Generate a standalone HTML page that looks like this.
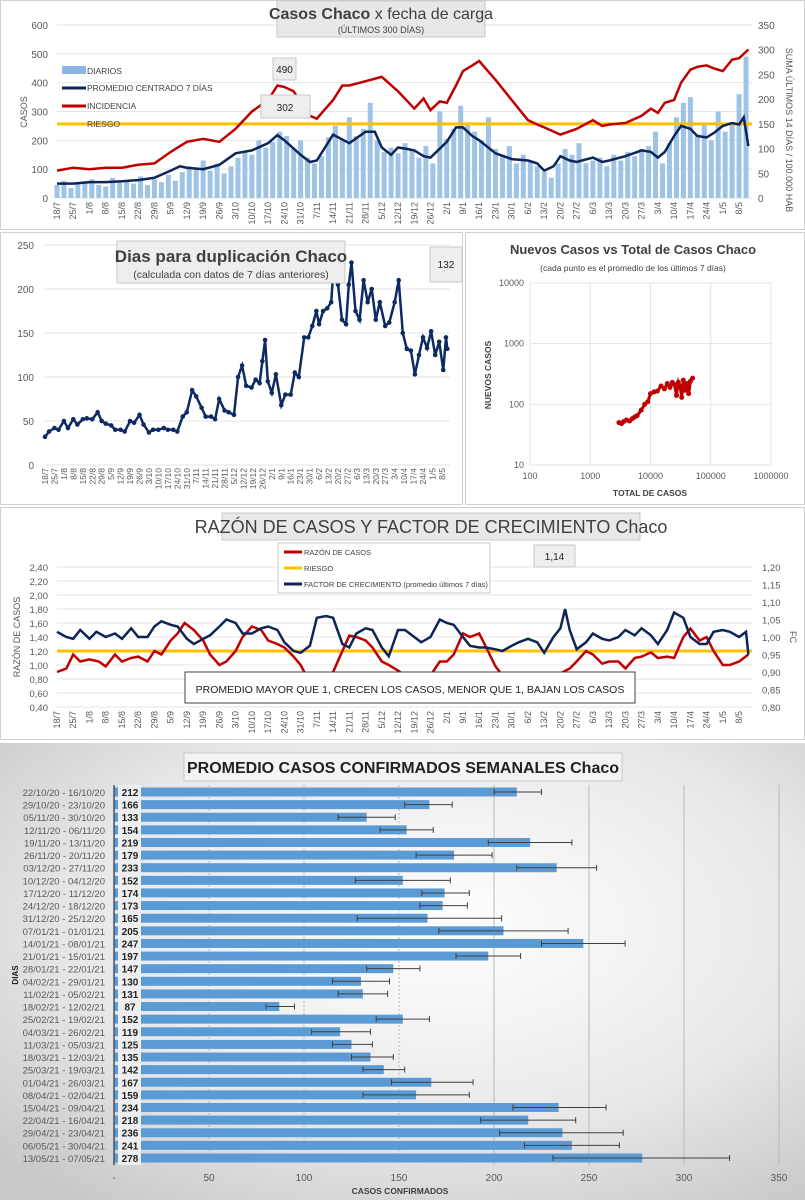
<!DOCTYPE html>
<html><head><meta charset="utf-8"><style>
html,body{margin:0;padding:0;background:#fff}
svg{display:block;font-family:"Liberation Sans",sans-serif}
</style></head><body>
<svg id="s" width="805" height="1200" viewBox="0 0 805 1200" xmlns="http://www.w3.org/2000/svg">
<defs>
<radialGradient id="bg5" cx="0.55" cy="0.4" r="0.75">
<stop offset="0" stop-color="#ffffff"/><stop offset="0.6" stop-color="#e8e8e8"/><stop offset="1" stop-color="#c8c8c8"/>
</radialGradient>
</defs>
<rect x="0.5" y="0.5" width="804" height="229" fill="#fff" stroke="#d0d0d0"/>
<rect x="0.5" y="232.5" width="462" height="272" fill="#fff" stroke="#d0d0d0"/>
<rect x="465.5" y="232.5" width="339" height="272" fill="#fff" stroke="#d0d0d0"/>
<rect x="0.5" y="507.5" width="804" height="232" fill="#fff" stroke="#d0d0d0"/>
<rect x="0" y="743" width="805" height="457" fill="url(#bg5)"/>
<g id="g1"></g><g id="g2"></g><g id="g3"></g><g id="g4"></g><g id="g5"></g>
</svg>
<script>
// ---------- data: panel 1 ----------
const dailyCases = [45,60,35,55,50,65,45,40,70,55,60,50,75,45,65,55,80,60,90,110,100,130,95,120,85,110,140,160,150,200,175,195,230,215,170,200,140,120,145,210,250,200,280,215,240,330,200,160,175,155,190,165,140,180,120,300,205,240,320,260,230,200,280,170,150,180,120,150,130,110,90,70,120,170,150,190,120,130,140,110,150,130,160,145,170,180,230,120,190,280,330,350,220,260,200,300,230,260,360,490];
const avgDates = ["18/7","25/7","1/8","8/8","15/8","22/8","29/8","5/9","9/9","12/9","19/9","26/9","3/10","10/10","17/10","21/10","24/10","31/10","4/11","7/11","14/11","21/11","28/11","2/12","5/12","9/12","12/12","16/12","19/12","23/12","26/12","2/1","6/1","9/1","13/1","16/1","23/1","30/1","6/2","10/2","13/2","17/2","20/2","24/2","27/2","6/3","10/3","13/3","20/3","27/3","31/3","3/4","6/4","10/4","13/4","17/4","20/4","24/4","27/4","1/5","5/5","8/5","10/5","12/5"];
const avgValues = [50,50,55,55,58,62,70,95,110,105,100,115,155,165,190,218,200,150,125,130,220,190,230,230,175,150,175,170,165,145,140,195,245,245,215,200,155,135,130,120,95,110,145,130,125,140,125,130,145,165,160,140,160,215,250,240,215,210,225,250,260,255,280,180];
const incDates = ["18/7","25/7","1/8","8/8","15/8","22/8","29/8","5/9","12/9","19/9","26/9","3/10","10/10","17/10","21/10","24/10","28/10","4/11","7/11","14/11","18/11","21/11","28/11","5/12","12/12","19/12","23/12","26/12","30/12","2/1","6/1","9/1","13/1","16/1","23/1","30/1","6/2","10/2","13/2","20/2","27/2","6/3","10/3","13/3","20/3","27/3","31/3","3/4","6/4","10/4","13/4","17/4","20/4","24/4","27/4","1/5","5/5","8/5","12/5"];
const incValues = [95,105,100,105,105,115,120,160,195,205,195,240,300,340,390,385,370,285,275,340,390,390,405,420,370,310,345,305,335,330,390,440,460,475,410,340,270,255,245,220,240,270,250,255,260,285,310,295,330,340,400,445,455,460,450,440,480,485,515];
const riesgo1 = 257;
const leftTicks1 = [0,100,200,300,400,500,600];
const rightTicks1 = [0,50,100,150,200,250,300,350];
// ---------- data: panel 2 ----------
const dupDates = ["18/7","21/7","25/7","28/7","1/8","4/8","8/8","11/8","15/8","18/8","22/8","26/8","29/8","1/9","5/9","8/9","12/9","15/9","19/9","22/9","26/9","29/9","3/10","6/10","10/10","14/10","17/10","21/10","24/10","28/10","31/10","4/11","7/11","11/11","14/11","18/11","21/11","24/11","28/11","1/12","5/12","8/12","11/12","14/12","18/12","21/12","24/12","26/12","28/12","30/12","2/1","5/1","9/1","12/1","16/1","19/1","22/1","26/1","29/1","1/2","4/2","6/2","9/2","12/2","15/2","17/2","20/2","23/2","26/2","28/2","2/3","5/3","8/3","11/3","14/3","17/3","20/3","23/3","27/3","30/3","3/4","6/4","9/4","12/4","15/4","18/4","21/4","24/4","27/4","30/4","3/5","6/5","9/5","11/5","12/5"];
const dupValues = [32,38,42,40,50,42,52,46,52,53,52,60,50,47,45,40,40,38,50,48,57,46,37,40,40,42,40,40,38,55,60,85,78,65,55,55,52,75,62,60,57,100,113,90,88,97,93,118,142,95,82,103,68,80,80,105,100,145,145,158,175,160,175,178,185,230,205,165,160,205,230,175,165,210,185,200,165,185,158,162,185,210,150,132,130,103,125,145,133,152,125,140,108,145,132];
const dupTicks = [0,50,100,150,200,250];
// ---------- data: panel 3 ----------
const totalCases = [3000,3300,3600,4000,4500,5000,5500,6000,7000,8000,9000,10000,11500,13000,15000,17000,19000,21000,23000,25000,27000,29000,31000,33000,35000,37000,40000,43000,46000,50000];
const newCases = [50,48,52,55,53,58,62,65,80,100,110,150,160,165,200,180,220,190,230,210,140,230,200,130,250,170,220,150,240,270];
const logTicksY = [10,100,1000,10000];
const logTicksX = [100,1000,10000,100000,1000000];
// ---------- data: panel 4 ----------
const razDates = ["18/7","22/7","25/7","28/7","1/8","5/8","8/8","12/8","15/8","19/8","22/8","26/8","29/8","1/9","5/9","8/9","11/9","15/9","19/9","22/9","26/9","29/9","3/10","6/10","10/10","14/10","17/10","21/10","24/10","28/10","31/10","4/11","7/11","11/11","14/11","18/11","21/11","24/11","28/11","1/12","5/12","8/12","12/12","15/12","19/12","22/12","26/12","30/12","2/1","5/1","9/1","12/1","16/1","19/1","23/1","26/1","30/1","2/2","6/2","10/2","13/2","17/2","20/2","24/2","27/2","3/3","6/3","10/3","13/3","17/3","20/3","24/3","27/3","31/3","3/4","7/4","10/4","14/4","17/4","21/4","24/4","27/4","1/5","4/5","8/5","12/5"];
const razValues = [0.90,0.95,1.15,1.05,1.08,1.05,0.98,1.15,1.05,1.10,1.12,1.05,1.20,1.15,1.35,1.45,1.60,1.50,1.35,1.15,1.00,1.05,1.20,1.40,1.55,1.50,1.35,1.30,1.25,1.12,1.00,0.75,0.68,0.75,0.90,1.20,1.42,1.40,1.35,1.25,1.05,1.00,0.92,0.85,0.72,0.88,0.85,1.05,1.05,1.15,1.45,1.40,1.45,1.25,0.98,0.85,0.70,0.65,0.64,0.70,0.72,0.80,0.88,0.95,1.05,1.20,1.15,1.02,1.05,1.05,0.95,1.10,1.12,1.18,1.10,1.12,1.10,1.40,1.52,1.35,1.40,1.20,1.00,1.00,1.05,1.15];
const fcDates = ["18/7","22/7","25/7","28/7","1/8","4/8","8/8","12/8","15/8","19/8","22/8","26/8","29/8","1/9","5/9","8/9","12/9","15/9","19/9","22/9","26/9","29/9","3/10","6/10","10/10","14/10","17/10","21/10","24/10","28/10","31/10","4/11","7/11","11/11","14/11","18/11","21/11","24/11","28/11","1/12","5/12","8/12","12/12","15/12","19/12","22/12","26/12","30/12","2/1","5/1","9/1","12/1","16/1","19/1","23/1","26/1","30/1","2/2","6/2","10/2","13/2","17/2","20/2","22/2","24/2","27/2","3/3","6/3","10/3","13/3","17/3","20/3","24/3","27/3","31/3","3/4","7/4","10/4","14/4","17/4","21/4","24/4","27/4","1/5","4/5","8/5","11/5","12/5"];
const fcValues = [1.015,1.0,0.995,1.02,0.995,1.015,1.0,1.01,0.995,1.025,1.0,1.0,1.03,1.045,1.035,1.03,0.995,0.98,0.995,1.005,1.03,1.05,1.04,1.01,1.01,1.025,1.03,1.02,0.985,0.96,0.955,0.975,1.055,1.06,1.055,0.98,0.97,1.01,1.025,1.02,0.97,0.945,1.02,1.02,1.0,0.985,1.0,1.05,1.04,1.035,1.0,0.975,0.97,0.97,0.965,0.96,0.975,0.985,0.995,0.985,0.955,1.0,1.025,1.08,1.02,0.965,0.985,1.01,0.995,0.99,1.0,1.02,1.005,1.025,1.005,0.98,1.02,1.07,1.055,1.0,0.98,0.98,1.015,1.02,1.015,1.0,1.015,0.95];
const riesgo4 = 1.20;
const leftTicks4 = [0.40,0.60,0.80,1.00,1.20,1.40,1.60,1.80,2.00,2.20,2.40];
const rightTicks4 = [0.80,0.85,0.90,0.95,1.00,1.05,1.10,1.15,1.20];
// ---------- data: panel 5 ----------
const weekLabels = ["22/10/20 - 16/10/20","29/10/20 - 23/10/20","05/11/20 - 30/10/20","12/11/20 - 06/11/20","19/11/20 - 13/11/20","26/11/20 - 20/11/20","03/12/20 - 27/11/20","10/12/20 - 04/12/20","17/12/20 - 11/12/20","24/12/20 - 18/12/20","31/12/20 - 25/12/20","07/01/21 - 01/01/21","14/01/21 - 08/01/21","21/01/21 - 15/01/21","28/01/21 - 22/01/21","04/02/21 - 29/01/21","11/02/21 - 05/02/21","18/02/21 - 12/02/21","25/02/21 - 19/02/21","04/03/21 - 26/02/21","11/03/21 - 05/03/21","18/03/21 - 12/03/21","25/03/21 - 19/03/21","01/04/21 - 26/03/21","08/04/21 - 02/04/21","15/04/21 - 09/04/21","22/04/21 - 16/04/21","29/04/21 - 23/04/21","06/05/21 - 30/04/21","13/05/21 - 07/05/21"];
const weekValues = [212,166,133,154,219,179,233,152,174,173,165,205,247,197,147,130,131,87,152,119,125,135,142,167,159,234,218,236,241,278];
const errLow = [200,153,118,140,197,159,212,127,162,161,128,171,225,180,133,115,118,80,138,104,115,125,131,146,131,210,193,203,216,231];
const errHigh = [225,178,148,168,241,199,254,177,187,186,204,239,269,214,161,145,144,95,166,135,136,147,153,189,187,259,243,268,266,324];
const xTicks5 = [0,50,100,150,200,250,300,350];

const NS="http://www.w3.org/2000/svg";
function mk(parent,tag,attrs,text){const e=document.createElementNS(NS,tag);for(const k in attrs)e.setAttribute(k,attrs[k]);if(text!==undefined)e.textContent=text;parent.appendChild(e);return e;}
const D0=Date.UTC(2020,6,18);
function dayIdx(s){const p=s.split("/");const d=+p[0],m=+p[1];return (Date.UTC(m>=7?2020:2021,m-1,d)-D0)/864e5;}
function fmtDay(n){const dt=new Date(D0+n*864e5);return dt.getUTCDate()+"/"+(dt.getUTCMonth()+1);}
function comma(v,dig){return v.toFixed(dig).replace(".",",");}
function poly(pts){return pts.map((p,i)=>(i?"L":"M")+p[0].toFixed(1)+","+p[1].toFixed(1)).join("");}

(function(){
const g=document.getElementById("g1");
const x=d=>57+d*2.32, y=v=>198-v*173/600;
leftTicks1.forEach(t=>{
 const gl=mk(g,"line",{x1:57,x2:752,y1:y(t),y2:y(t),stroke:"#e4e4e4","stroke-width":1});
 
 const tl=mk(g,"text",{x:48,y:y(t)+4,"font-size":10,fill:"#595959","text-anchor":"end"},t);
 
});
rightTicks1.forEach(t=>{
 const tl=mk(g,"text",{x:758,y:y(t*600/350)+4,"font-size":10,fill:"#595959"},t);
 
});
dailyCases.forEach((v,i)=>{
 const r=mk(g,"rect",{x:x(i*3)-2.5,y:y(v),width:5,height:198-y(v),fill:"#9dc3e6"});
 
});
const rl=mk(g,"line",{x1:57,x2:752,y1:y(riesgo1),y2:y(riesgo1),stroke:"#ffc000","stroke-width":3});

const inc=mk(g,"path",{d:poly(incDates.map((s,i)=>[x(dayIdx(s)),y(incValues[i])])),fill:"none",stroke:"#c00000","stroke-width":2.5});

const av=mk(g,"path",{d:poly(avgDates.map((s,i)=>[x(dayIdx(s)),y(avgValues[i])])),fill:"none",stroke:"#0d2557","stroke-width":2.5});

for(let d=0;d<=294;d+=7){const tx=x(d);
 const t=mk(g,"text",{x:0,y:0,"font-size":9,fill:"#595959","text-anchor":"end",transform:`translate(${tx+3},202) rotate(-90)`},fmtDay(d));
 }
})();

(function(){
const g=document.getElementById("g2");
const x=d=>45+d*1.35, y=v=>465-v*0.88;
dupTicks.forEach(t=>{
 const gl=mk(g,"line",{x1:44,x2:450,y1:y(t),y2:y(t),stroke:"#e4e4e4"});
 
 const tl=mk(g,"text",{x:34,y:y(t)+4,"font-size":10,fill:"#595959","text-anchor":"end"},t);
 
});
const pts=dupDates.map((s,i)=>[x(dayIdx(s)),y(dupValues[i])]);
const ln=mk(g,"path",{d:poly(pts),fill:"none",stroke:"#0d2a63","stroke-width":2.5});

pts.forEach(p=>{const c=mk(g,"circle",{cx:p[0],cy:p[1],r:2.3,fill:"#0d2a63"});
 });
for(let d=0;d<=294;d+=7){const tx=x(d);
 const t=mk(g,"text",{x:0,y:0,"font-size":8.5,fill:"#595959","text-anchor":"end",transform:`translate(${tx+3},468) rotate(-90)`},fmtDay(d));
 }
})();

(function(){
const g=document.getElementById("g3");
const x=v=>530+(Math.log10(v)-2)*60.25, y=v=>465-(Math.log10(v)-1)*60.7;
logTicksY.forEach(t=>{
 const gl=mk(g,"line",{x1:530,x2:771,y1:y(t),y2:y(t),stroke:"#e4e4e4"});
 
 const tl=mk(g,"text",{x:524,y:y(t)+3,"font-size":9,fill:"#595959","text-anchor":"end"},t);
 
});
logTicksX.forEach(t=>{
 const gl=mk(g,"line",{x1:x(t),x2:x(t),y1:y(10000),y2:465,stroke:"#e4e4e4"});
 
 const tl=mk(g,"text",{x:x(t),y:479,"font-size":9,fill:"#595959","text-anchor":"middle"},t);
 
});
const pts=totalCases.map((v,i)=>[x(v),y(newCases[i])]);
const ln=mk(g,"path",{d:poly(pts),fill:"none",stroke:"#c00000","stroke-width":3});

pts.forEach(p=>{const c=mk(g,"circle",{cx:p[0],cy:p[1],r:2.5,fill:"#c00000"});
 });
})();

(function(){
const g=document.getElementById("g4");
const x=d=>57+d*2.32, yl=v=>707-(v-0.4)*70, yr=v=>707-(v-0.8)*350;
leftTicks4.forEach(t=>{
 const gl=mk(g,"line",{x1:57,x2:752,y1:yl(t),y2:yl(t),stroke:"#e4e4e4"});
 
 const tl=mk(g,"text",{x:48,y:yl(t)+4,"font-size":9.5,fill:"#595959","text-anchor":"end"},comma(t,2));
 
});
rightTicks4.forEach(t=>{
 const tl=mk(g,"text",{x:762,y:yr(t)+4,"font-size":9.5,fill:"#595959"},comma(t,2));
 
});
const rl=mk(g,"line",{x1:57,x2:752,y1:yl(riesgo4),y2:yl(riesgo4),stroke:"#ffc000","stroke-width":3});

const rz=mk(g,"path",{d:poly(razDates.map((s,i)=>[x(dayIdx(s)),yl(razValues[i])])),fill:"none",stroke:"#c00000","stroke-width":2.5});

const fc=mk(g,"path",{d:poly(fcDates.map((s,i)=>[x(dayIdx(s)),yr(fcValues[i])])),fill:"none",stroke:"#0d2557","stroke-width":2.5});

for(let d=0;d<=294;d+=7){const tx=x(d);
 const t=mk(g,"text",{x:0,y:0,"font-size":9,fill:"#595959","text-anchor":"end",transform:`translate(${tx+3},711) rotate(-90)`},fmtDay(d));
 }
})();

(function(){
const g=document.getElementById("g5");
const x=v=>114+v*1.9, y=i=>792+i*12.62;
xTicks5.forEach(t=>{
 if(t>0){const gl=mk(g,"line",{x1:x(t),x2:x(t),y1:785,y2:1165,stroke:"#b8b8b8","stroke-dasharray":t<200?"2,2":"none"});
 }
 const tl=mk(g,"text",{x:x(t),y:1181,"font-size":10,fill:"#595959","text-anchor":"middle"},t===0?"-":t);
 
});
weekValues.forEach((v,i)=>{
 const cy=y(i);
 const b=mk(g,"rect",{x:x(0),y:cy-4.5,width:x(v)-x(0),height:9,fill:"#5b9bd5"});
 
 const e=mk(g,"path",{d:`M${x(errLow[i])},${cy}H${x(errHigh[i])}M${x(errLow[i])},${cy-3}V${cy+3}M${x(errHigh[i])},${cy-3}V${cy+3}`,stroke:"#404040","stroke-width":1,fill:"none"});
 
 const lb=mk(g,"text",{x:105,y:cy+4,"font-size":9.5,fill:"#595959","text-anchor":"end"},weekLabels[i]);
 
});
const box=mk(g,"rect",{x:118,y:785,width:23,height:380,fill:"#eeeeee"});

weekValues.forEach((v,i)=>{
 const t=mk(g,"text",{x:130,y:y(i)+4,"font-size":10,"font-weight":"bold",fill:"#222","text-anchor":"middle"},v);
 
});
const ax=mk(g,"line",{x1:114,x2:114,y1:785,y2:1165,stroke:"#44546a","stroke-width":1.5});

})();
</script>
<svg width="805" height="1200" style="position:absolute;left:0;top:0" xmlns="http://www.w3.org/2000/svg" font-family="Liberation Sans, sans-serif">
<g>
<rect x="277" y="1" width="208" height="36" fill="#e8e8e8" stroke="#c8c8c8"/>
<text x="381" y="19" font-size="16" fill="#404040" text-anchor="middle"><tspan font-weight="bold">Casos Chaco</tspan> x fecha de carga</text>
<text x="381" y="33" font-size="9" fill="#404040" text-anchor="middle">(ÚLTIMOS 300 DÍAS)</text>
</g>
<text x="0" y="0" font-size="9" fill="#595959" text-anchor="middle" transform="translate(27,112) rotate(-90)">CASOS</text>
<text x="0" y="0" font-size="9" fill="#595959" text-anchor="middle" transform="translate(786,130) rotate(90)">SUMA  ÚLTIMOS 14 DÍAS / 100.000 HAB</text>
<g font-size="8.5" fill="#404040">
<rect x="62" y="66" width="24" height="8" fill="#8db4e2"/><text x="87" y="74">DIARIOS</text>
<line x1="62" y1="88" x2="86" y2="88" stroke="#0d2557" stroke-width="3"/><text x="87" y="91">PROMEDIO CENTRADO 7 DÍAS</text>
<line x1="62" y1="106" x2="86" y2="106" stroke="#c00000" stroke-width="3"/><text x="87" y="109">INCIDENCIA</text>
<line x1="62" y1="124" x2="86" y2="124" stroke="#ffc000" stroke-width="3"/><text x="87" y="127">RIESGO</text>
</g>
<g><rect x="273" y="58" width="23" height="22" fill="#eeeeee" stroke="#c8c8c8"/><text x="284.5" y="73" font-size="10" fill="#222" text-anchor="middle">490</text></g>
<g><rect x="261" y="95" width="49" height="23" fill="#eeeeee" stroke="#c8c8c8"/><text x="285" y="111" font-size="10" fill="#222" text-anchor="middle">302</text></g>

<g>
<rect x="117" y="241" width="228" height="42" fill="#eeeeee" stroke="#c8c8c8"/>
<text x="231" y="262" font-size="17" font-weight="bold" fill="#404040" text-anchor="middle">Dias para duplicación Chaco</text>
<text x="231" y="278" font-size="10.5" fill="#404040" text-anchor="middle">(calculada con datos de 7 días anteriores)</text>
</g>
<g><rect x="430" y="247" width="32" height="35" fill="#eeeeee" stroke="#c8c8c8"/><text x="446" y="268" font-size="10" fill="#222" text-anchor="middle">132</text></g>

<text x="633" y="254" font-size="13" font-weight="bold" fill="#404040" text-anchor="middle">Nuevos Casos vs Total de Casos Chaco</text>
<text x="633" y="271" font-size="8.5" fill="#404040" text-anchor="middle">(cada punto es el promedio de los últimos 7 días)</text>
<text x="0" y="0" font-size="8.5" font-weight="bold" fill="#404040" text-anchor="middle" transform="translate(491,375) rotate(-90)">NUEVOS  CASOS</text>
<text x="650" y="496" font-size="8.5" font-weight="bold" fill="#404040" text-anchor="middle">TOTAL DE CASOS</text>

<g>
<rect x="222" y="513" width="418" height="27" fill="#e8e8e8" stroke="#c8c8c8"/>
<text x="431" y="533" font-size="18" fill="#404040" text-anchor="middle">RAZÓN DE CASOS Y FACTOR DE CRECIMIENTO Chaco</text>
</g>
<g font-size="7.5" fill="#404040">
<rect x="278" y="543" width="212" height="50" fill="#fff" stroke="#c8c8c8"/>
<line x1="284" y1="552" x2="302" y2="552" stroke="#c00000" stroke-width="3"/><text x="304" y="555">RAZÓN DE CASOS</text>
<line x1="284" y1="568" x2="302" y2="568" stroke="#ffc000" stroke-width="3"/><text x="304" y="571">RIESGO</text>
<line x1="284" y1="584" x2="302" y2="584" stroke="#0d2557" stroke-width="3"/><text x="304" y="587">FACTOR DE CRECIMIENTO (promedio últimos 7 días)</text>
</g>
<g><rect x="534" y="545" width="41" height="22" fill="#eeeeee" stroke="#c8c8c8"/><text x="554.5" y="560" font-size="10" fill="#222" text-anchor="middle">1,14</text></g>
<g><rect x="185" y="672" width="450" height="31" fill="#fff" stroke="#404040"/><text x="410" y="693" font-size="10.5" fill="#222" text-anchor="middle">PROMEDIO MAYOR QUE 1, CRECEN LOS CASOS, MENOR QUE 1, BAJAN LOS CASOS</text></g>
<text x="0" y="0" font-size="9" fill="#595959" text-anchor="middle" transform="translate(20,637) rotate(-90)">RAZÓN  DE  CASOS</text>
<text x="0" y="0" font-size="9" fill="#595959" text-anchor="middle" transform="translate(790,637) rotate(90)">FC</text>

<g>
<rect x="184" y="753" width="438" height="28" fill="#f4f4f4" stroke="#c8c8c8"/>
<text x="403" y="773" font-size="16" font-weight="bold" fill="#222" text-anchor="middle">PROMEDIO CASOS CONFIRMADOS SEMANALES Chaco</text>
</g>
<text x="0" y="0" font-size="8" font-weight="bold" fill="#222" text-anchor="middle" transform="translate(18,975) rotate(-90)">DIAS</text>
<text x="400" y="1194" font-size="8.5" font-weight="bold" fill="#404040" text-anchor="middle">CASOS CONFIRMADOS</text>
</svg>
</body></html>
